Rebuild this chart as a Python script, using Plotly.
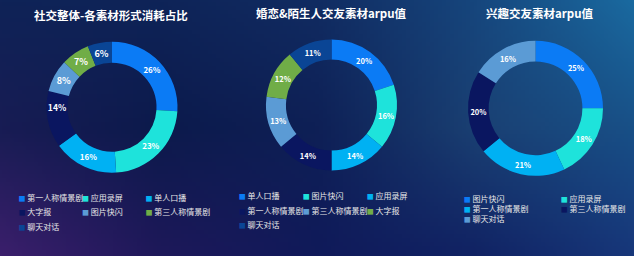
import zlib, struct, base64
import numpy as np
import plotly.graph_objects as go

W, H = 634, 256

# ---------------- data ----------------
titles = ["社交整体-各素材形式消耗占比", "婚恋&陌生人交友素材arpu值", "兴趣交友素材arpu值"]
labels1 = ["第一人称情景剧", "应用录屏", "单人口播", "大字报", "图片快闪", "第三人称情景剧", "聊天对话"]
values1 = [26, 23, 16, 14, 8, 7, 6]
labels2 = ["单人口播", "图片快闪", "应用录屏", "第一人称情景剧", "第三人称情景剧", "大字报", "聊天对话"]
values2 = [20, 16, 14, 14, 13, 12, 11]
labels3 = ["图片快闪", "应用录屏", "第一人称情景剧", "第三人称情景剧", "聊天对话"]
values3 = [25, 18, 21, 20, 16]
palette = ["#0b7bf5", "#1ee3db", "#00b1f3", "#0a1660", "#5b9bd5", "#70ad47", "#0a4595"]

# ---------------- background gradient ----------------
def png_uri(arr):
    h, w, _ = arr.shape
    raw = b"".join(b"\x00" + arr[y].tobytes() for y in range(h))
    def chunk(t, d):
        c = struct.pack(">I", len(d)) + t + d
        return c + struct.pack(">I", zlib.crc32(t + d) & 0xffffffff)
    png = (b"\x89PNG\r\n\x1a\n"
           + chunk(b"IHDR", struct.pack(">IIBBBBB", w, h, 8, 2, 0, 0, 0))
           + chunk(b"IDAT", zlib.compress(raw, 9))
           + chunk(b"IEND", b""))
    return "data:image/png;base64," + base64.b64encode(png).decode()

ctrl = np.array([
    [(15, 35, 87), (14, 36, 88), (17, 44, 98), (22, 70, 125), (26, 106, 160)],
    [(24, 28, 84), (12, 26, 76), (14, 32, 86), (26, 64, 115), (24, 80, 135)],
    [(59, 31, 108), (30, 24, 90), (16, 26, 90), (17, 35, 100), (23, 55, 122)],
], dtype=float)
gw, gh = 160, 64
gy = np.linspace(0, ctrl.shape[0] - 1, gh)
gx = np.linspace(0, ctrl.shape[1] - 1, gw)
img = np.zeros((gh, gw, 3))
for c in range(3):
    tmp = np.array([np.interp(gx, np.arange(ctrl.shape[1]), ctrl[r, :, c]) for r in range(ctrl.shape[0])])
    img[:, :, c] = np.array([np.interp(gy, np.arange(ctrl.shape[0]), tmp[:, j]) for j in range(gw)]).T
bg_uri = png_uri(np.clip(img, 0, 255).astype(np.uint8))

# ---------------- figure ----------------
fig = go.Figure()

charts = [
    dict(labels=labels1, values=values1, cx=112, cy=107.2, r=65.5, hole=0.68, tsize=9,
         ncol=3, x0=18.5, pitch=63.5, rows=[198.3, 212, 226.8], title_x=111, title_y=15),
    dict(labels=labels2, values=values2, cx=331.5, cy=105, r=65.5, hole=0.695, tsize=7.5,
         ncol=3, x0=238.7, pitch=64, rows=[196, 210.5, 225], title_x=331.7, title_y=12.5),
    dict(labels=labels3, values=values3, cx=535.5, cy=108.3, r=67.5, hole=0.695, tsize=7.5,
         ncol=2, x0=463.7, pitch=97, rows=[198.9, 209, 219.1], title_x=540, title_y=12.5),
]

FONT = "Noto Sans CJK SC, Noto Sans, sans-serif"
layout_legends = {}
lk = 0
for ci, ch in enumerate(charts):
    labs, vals = ch["labels"], ch["values"]
    cols = palette[:len(labs)]
    fig.add_trace(go.Pie(
        labels=labs, values=vals, sort=False, direction="clockwise", rotation=0,
        hole=ch["hole"], marker=dict(colors=cols, line=dict(width=0)),
        texttemplate="%{percent:.0%}", textposition="inside",
        insidetextorientation="horizontal",
        textfont=dict(family=FONT, size=ch["tsize"], color="white", weight="bold"),
        domain=dict(x=[(ch["cx"] - ch["r"]) / W, (ch["cx"] + ch["r"]) / W],
                    y=[(H - ch["cy"] - ch["r"]) / H, (H - ch["cy"] + ch["r"]) / H]),
        showlegend=False, hoverinfo="label+percent",
    ))
    fig.add_annotation(text=f"<b>{titles[ci]}</b>", x=ch["title_x"] / W, y=1 - ch["title_y"] / H,
                       xref="paper", yref="paper", xanchor="center", yanchor="middle",
                       showarrow=False, font=dict(family=FONT, size=11.5, color="white"))
    # legend rows
    for r, ry in enumerate(ch["rows"]):
        row_items = list(range(r * ch["ncol"], min((r + 1) * ch["ncol"], len(labs))))
        if not row_items:
            continue
        lk += 1
        lid = "legend" if lk == 1 else f"legend{lk}"
        for i in row_items:
            fig.add_trace(go.Scatter(
                x=[None], y=[None], mode="markers",
                marker=dict(color="rgba(0,0,0,0)", size=1),
                name=f'<span style="color:{cols[i]};font-size:7px">■</span> {labs[i]}',
                legend=lid, showlegend=True, hoverinfo="skip",
            ))
        # invisible spacer entry so the last label is not clipped by the legend box
        fig.add_trace(go.Scatter(
            x=[None], y=[None], mode="markers",
            marker=dict(color="rgba(0,0,0,0)", size=1),
            name=" ", legend=lid, showlegend=True, hoverinfo="skip",
        ))
        layout_legends[lid] = dict(
            orientation="h", x=(ch["x0"] - 40) / W, xanchor="left",
            y=1 - ry / H, yanchor="middle",
            entrywidth=ch["pitch"] - 45, entrywidthmode="pixels",
            font=dict(family=FONT, size=8, color="#e8e8e8"),
            bgcolor="rgba(0,0,0,0)", borderwidth=0, itemwidth=30,
        )

fig.update_layout(
    width=W, height=H,
    margin=dict(l=0, r=0, t=0, b=0, pad=0, autoexpand=False),
    paper_bgcolor="#10215a", plot_bgcolor="rgba(0,0,0,0)",
    xaxis=dict(visible=False), yaxis=dict(visible=False),
    images=[dict(source=bg_uri, xref="paper", yref="paper", x=0, y=1,
                 sizex=1, sizey=1, xanchor="left", yanchor="top",
                 sizing="stretch", layer="below")],
    **layout_legends,
)

fig.write_html("out.html", config=dict(displayModeBar=False))
